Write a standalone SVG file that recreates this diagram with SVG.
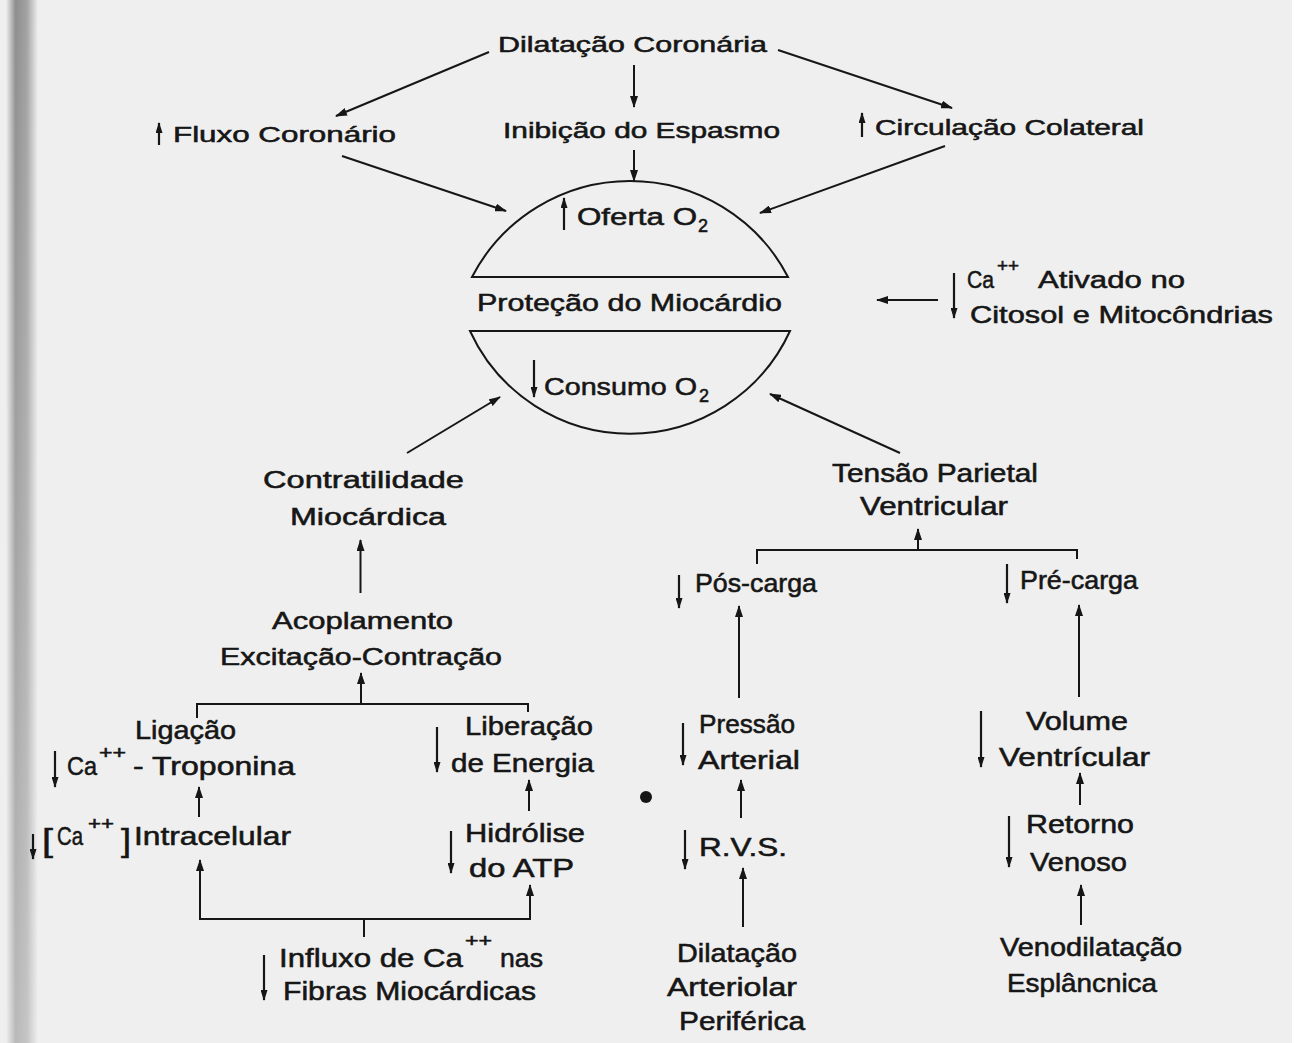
<svg xmlns="http://www.w3.org/2000/svg" width="1300" height="1043" viewBox="0 0 1300 1043">
<defs>
<style>
.t{font-family:"Liberation Sans",Arial,sans-serif;fill:#161616;stroke:#161616;stroke-width:0.55px;}
.s1{font-size:22.5px;}
.s2{font-size:24.5px;}
.s3{font-size:26px;}
.s4{font-size:25.5px;}
.sup{font-size:18px;}
.sub{font-size:18px;}
.br{font-size:31px;}
.c{stroke:#161616;stroke-width:2;fill:none;marker-end:url(#ah);}
.a{stroke:#161616;stroke-width:2.2;fill:none;marker-end:url(#ahs);}
.sh{stroke:#161616;stroke-width:2;fill:none;}
</style>
<marker id="ah" viewBox="0 0 12 8" refX="11" refY="4" markerWidth="12" markerHeight="8" orient="auto" markerUnits="userSpaceOnUse"><path d="M0,0 L12,4 L0,8 Z" fill="#161616"/></marker>
<marker id="ahs" viewBox="0 0 11 7" refX="10" refY="3.5" markerWidth="11" markerHeight="7" orient="auto" markerUnits="userSpaceOnUse"><path d="M0,0 L11,3.5 L0,7 Z" fill="#161616"/></marker>
<linearGradient id="stripe" x1="0" y1="0" x2="1" y2="0">
<stop offset="0" stop-color="#efefef"/>
<stop offset="0.3" stop-color="#8e8e8e"/>
<stop offset="0.65" stop-color="#a2a2a2"/>
<stop offset="1" stop-color="#efefef"/>
</linearGradient>
<linearGradient id="stripeTop" x1="0" y1="0" x2="0" y2="1">
<stop offset="0" stop-color="#efefef" stop-opacity="0"/>
<stop offset="1" stop-color="#efefef" stop-opacity="0.45"/>
</linearGradient>
</defs>
<rect x="0" y="0" width="1300" height="1043" fill="#efefef"/>
<rect x="6" y="0" width="32" height="1043" fill="url(#stripe)"/>
<rect x="6" y="0" width="32" height="1043" fill="url(#stripeTop)"/>
<rect x="1292" y="0" width="8" height="1043" fill="#ffffff"/>

<g id="connectors">
<line class="c" x1="489" y1="52" x2="336" y2="116"/>
<line class="c" x1="634" y1="65" x2="634" y2="107"/>
<line class="c" x1="778" y1="50" x2="952" y2="108"/>
<line class="c" x1="342" y1="156" x2="506" y2="211"/>
<line class="c" x1="634" y1="150" x2="634" y2="181"/>
<line class="c" x1="945" y1="146" x2="760" y2="213"/>
<line class="c" x1="407" y1="453" x2="500" y2="397"/>
<line class="c" x1="900" y1="453" x2="770" y2="394"/>
<line class="c" x1="938" y1="300" x2="877" y2="300"/>
<line class="c" x1="360.5" y1="593" x2="360.5" y2="540"/>
<line class="c" x1="361" y1="704" x2="361" y2="673"/>
<path class="sh" d="M197,718 V704 H528 V712"/>
<line class="c" x1="199" y1="817" x2="199" y2="787"/>
<line class="c" x1="529" y1="811" x2="529" y2="780"/>
<line class="sh" x1="364" y1="937" x2="364" y2="919"/>
<line class="sh" x1="199" y1="919" x2="531" y2="919"/>
<line class="c" x1="200" y1="920" x2="200" y2="860"/>
<line class="c" x1="530" y1="920" x2="530" y2="885"/>
<line class="c" x1="918" y1="550" x2="918" y2="529"/>
<path class="sh" d="M757,564 V550 H1077 V559"/>
<line class="c" x1="739" y1="698" x2="739" y2="606"/>
<line class="c" x1="1079" y1="697" x2="1079" y2="605"/>
<line class="c" x1="741" y1="818" x2="741" y2="780"/>
<line class="c" x1="743" y1="927" x2="743" y2="868"/>
<line class="c" x1="1080" y1="805" x2="1080" y2="773"/>
<line class="c" x1="1081" y1="925" x2="1081" y2="885"/>
</g>

<g id="n-dilatacao-coronaria">
<text class="t s1" x="498" y="52" textLength="269" lengthAdjust="spacingAndGlyphs">Dilatação Coronária</text>
</g>
<g id="n-fluxo-coronario">
<line class="a" x1="159" y1="145" x2="159" y2="123"/>
<text class="t s1" x="173" y="142" textLength="223" lengthAdjust="spacingAndGlyphs">Fluxo Coronário</text>
</g>
<g id="n-inibicao-espasmo">
<text class="t s1" x="503" y="138" textLength="277" lengthAdjust="spacingAndGlyphs">Inibição do Espasmo</text>
</g>
<g id="n-circulacao-colateral">
<line class="a" x1="862" y1="137" x2="862" y2="113"/>
<text class="t s1" x="875" y="135" textLength="269" lengthAdjust="spacingAndGlyphs">Circulação Colateral</text>
</g>

<g id="n-protecao-miocardio">
<path class="sh" d="M472,277 A178,178 0 0,1 788,277 Z"/>
<path class="sh" d="M470,331 A176,176 0 0,0 790,331 Z"/>
<line class="a" x1="564" y1="230" x2="564" y2="198"/>
<text class="t s2" x="577" y="225" textLength="120" lengthAdjust="spacingAndGlyphs">Oferta O</text>
<text class="t sub" x="698" y="232">2</text>
<text class="t s2" x="477" y="311" textLength="305" lengthAdjust="spacingAndGlyphs">Proteção do Miocárdio</text>
<line class="a" x1="534" y1="360" x2="534" y2="397"/>
<text class="t s2" x="544" y="395" textLength="153" lengthAdjust="spacingAndGlyphs">Consumo O</text>
<text class="t sub" x="699" y="402">2</text>
</g>

<g id="n-ca-ativado">
<line class="a" x1="954" y1="273" x2="954" y2="318"/>
<text class="t s2" x="967" y="288" textLength="27" lengthAdjust="spacingAndGlyphs">Ca</text>
<text class="t sup" x="997" y="272" textLength="22" lengthAdjust="spacingAndGlyphs">++</text>
<text class="t s2" x="1038" y="288" textLength="147" lengthAdjust="spacingAndGlyphs">Ativado no</text>
<text class="t s2" x="970" y="323" textLength="303" lengthAdjust="spacingAndGlyphs">Citosol e Mitocôndrias</text>
</g>

<g id="n-contratilidade">
<text class="t s2" x="263" y="488" textLength="201" lengthAdjust="spacingAndGlyphs">Contratilidade</text>
<text class="t s2" x="290" y="525" textLength="156" lengthAdjust="spacingAndGlyphs">Miocárdica</text>
</g>
<g id="n-acoplamento">
<text class="t s2" x="272" y="629" textLength="181" lengthAdjust="spacingAndGlyphs">Acoplamento</text>
<text class="t s2" x="220" y="665" textLength="282" lengthAdjust="spacingAndGlyphs">Excitação-Contração</text>
</g>
<g id="n-ligacao-troponina">
<text class="t s3" x="135" y="739" textLength="101" lengthAdjust="spacingAndGlyphs">Ligação</text>
<line class="a" x1="55" y1="751" x2="55" y2="787"/>
<text class="t s3" x="67" y="775" textLength="30" lengthAdjust="spacingAndGlyphs">Ca</text>
<text class="t sup" x="99" y="759" textLength="27" lengthAdjust="spacingAndGlyphs">++</text>
<text class="t s3" x="133" y="775" textLength="162" lengthAdjust="spacingAndGlyphs">- Troponina</text>
</g>
<g id="n-intracelular">
<line class="a" x1="33" y1="834" x2="33" y2="859"/>
<text class="t br" x="42" y="851" textLength="11" lengthAdjust="spacingAndGlyphs">[</text>
<text class="t s3" x="57" y="845" textLength="26" lengthAdjust="spacingAndGlyphs">Ca</text>
<text class="t sup" x="88" y="830" textLength="26" lengthAdjust="spacingAndGlyphs">++</text>
<text class="t br" x="121" y="851" textLength="10" lengthAdjust="spacingAndGlyphs">]</text>
<text class="t s3" x="134" y="845" textLength="157" lengthAdjust="spacingAndGlyphs">Intracelular</text>
</g>
<g id="n-liberacao-energia">
<line class="a" x1="437" y1="727" x2="437" y2="772"/>
<text class="t s3" x="465" y="735" textLength="128" lengthAdjust="spacingAndGlyphs">Liberação</text>
<text class="t s3" x="451" y="772" textLength="143" lengthAdjust="spacingAndGlyphs">de Energia</text>
</g>
<g id="n-hidrolise-atp">
<line class="a" x1="451" y1="831" x2="451" y2="873"/>
<text class="t s3" x="465" y="842" textLength="120" lengthAdjust="spacingAndGlyphs">Hidrólise</text>
<text class="t s3" x="469" y="877" textLength="105" lengthAdjust="spacingAndGlyphs">do ATP</text>
</g>
<g id="n-influxo-ca">
<line class="a" x1="264" y1="955" x2="264" y2="1000"/>
<text class="t s3" x="279" y="967" textLength="184" lengthAdjust="spacingAndGlyphs">Influxo de Ca</text>
<text class="t sup" x="465" y="947" textLength="27" lengthAdjust="spacingAndGlyphs">++</text>
<text class="t s3" x="500" y="967" textLength="43" lengthAdjust="spacingAndGlyphs">nas</text>
<text class="t s3" x="283" y="1000" textLength="253" lengthAdjust="spacingAndGlyphs">Fibras Miocárdicas</text>
</g>

<g id="n-tensao-parietal">
<text class="t s4" x="832" y="482" textLength="206" lengthAdjust="spacingAndGlyphs">Tensão Parietal</text>
<text class="t s4" x="860" y="515" textLength="148" lengthAdjust="spacingAndGlyphs">Ventricular</text>
</g>
<g id="n-pos-carga">
<line class="a" x1="679" y1="575" x2="679" y2="608"/>
<text class="t s4" x="695" y="592" textLength="122" lengthAdjust="spacingAndGlyphs">Pós-carga</text>
</g>
<g id="n-pre-carga">
<line class="a" x1="1007" y1="564" x2="1007" y2="603"/>
<text class="t s4" x="1020" y="589" textLength="118" lengthAdjust="spacingAndGlyphs">Pré-carga</text>
</g>
<g id="n-pressao-arterial">
<line class="a" x1="683" y1="723" x2="683" y2="765"/>
<text class="t s4" x="699" y="733" textLength="96" lengthAdjust="spacingAndGlyphs">Pressão</text>
<text class="t s4" x="698" y="769" textLength="102" lengthAdjust="spacingAndGlyphs">Arterial</text>
</g>
<g id="n-rvs">
<line class="a" x1="685" y1="830" x2="685" y2="869"/>
<text class="t s4" x="699" y="856" textLength="88" lengthAdjust="spacingAndGlyphs">R.V.S.</text>
</g>
<g id="n-dilatacao-arteriolar">
<text class="t s4" x="677" y="962" textLength="120" lengthAdjust="spacingAndGlyphs">Dilatação</text>
<text class="t s4" x="667" y="996" textLength="130" lengthAdjust="spacingAndGlyphs">Arteriolar</text>
<text class="t s4" x="679" y="1030" textLength="126" lengthAdjust="spacingAndGlyphs">Periférica</text>
</g>
<g id="n-volume-ventricular">
<line class="a" x1="981" y1="711" x2="981" y2="767"/>
<text class="t s4" x="1026" y="730" textLength="102" lengthAdjust="spacingAndGlyphs">Volume</text>
<text class="t s4" x="999" y="766" textLength="151" lengthAdjust="spacingAndGlyphs">Ventrícular</text>
</g>
<g id="n-retorno-venoso">
<line class="a" x1="1009" y1="816" x2="1009" y2="867"/>
<text class="t s4" x="1026" y="833" textLength="108" lengthAdjust="spacingAndGlyphs">Retorno</text>
<text class="t s4" x="1030" y="871" textLength="97" lengthAdjust="spacingAndGlyphs">Venoso</text>
</g>
<g id="n-venodilatacao">
<text class="t s4" x="1000" y="956" textLength="182" lengthAdjust="spacingAndGlyphs">Venodilatação</text>
<text class="t s4" x="1007" y="992" textLength="150" lengthAdjust="spacingAndGlyphs">Esplâncnica</text>
</g>

<circle cx="646" cy="797" r="6" fill="#161616"/>
</svg>
